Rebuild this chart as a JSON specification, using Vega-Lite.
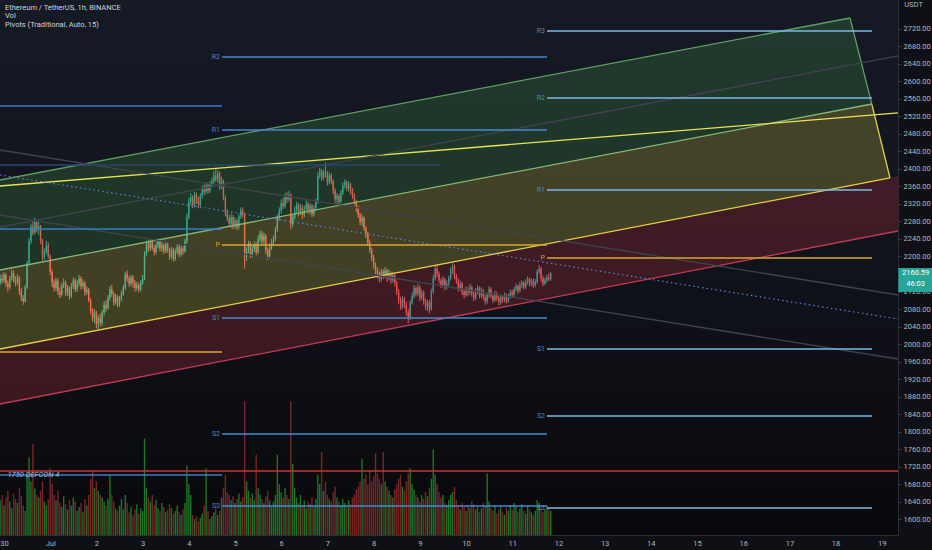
{
"$schema":"https://vega.github.io/schema/vega-lite/v6.json",
"width":898,"height":535,
"autosize":{"type":"none"},
"padding":{"left":0,"top":0,"right":34,"bottom":15},
"background":"#0e1016",
"config":{"view":{"stroke":null},"font":"Roboto",
"axis":{"labelOverlap":false},
"axisY":{"labelOverlap":false,"labelFlush":false,"labelColor":"#b2b5be","labelFont":"Roboto","labelFontSize":7.5,"tickColor":"#3a3e4a","tickSize":3,"labelPadding":2,"domainColor":"#2a2e39","grid":false,"labelAlign":"left","labelBaseline":"middle","title":null},
"axisX":{"labelOverlap":false,"labelFlush":false,"labelColor":"#b2b5be","labelFont":"Roboto","labelFontSize":7.5,"ticks":false,"labelPadding":4,"domainColor":"#2a2e39","grid":false,"title":null}},
"datasets":{
"bg":[{"t":-2.08,"t2":464.42,"v0":0,"v1":400}],
"candles":[
{"t":-2,"o":2140,"hi":2158,"lo":2135,"c":2150,"v":26},
{"t":-1,"o":2150,"hi":2160,"lo":2138,"c":2145,"v":30},
{"t":0,"o":2145,"hi":2165,"lo":2140,"c":2158,"v":22},
{"t":1,"o":2158,"hi":2162,"lo":2130,"c":2138,"v":28},
{"t":2,"o":2138,"hi":2145,"lo":2120,"c":2130,"v":33},
{"t":3,"o":2130,"hi":2156,"lo":2125,"c":2150,"v":25},
{"t":4,"o":2150,"hi":2170,"lo":2145,"c":2162,"v":20},
{"t":5,"o":2162,"hi":2168,"lo":2140,"c":2145,"v":31},
{"t":6,"o":2145,"hi":2155,"lo":2132,"c":2140,"v":27},
{"t":7,"o":2140,"hi":2160,"lo":2135,"c":2152,"v":24},
{"t":8,"o":2152,"hi":2155,"lo":2112,"c":2120,"v":35},
{"t":9,"o":2120,"hi":2128,"lo":2098,"c":2105,"v":29},
{"t":10,"o":2105,"hi":2112,"lo":2090,"c":2098,"v":22},
{"t":11,"o":2098,"hi":2135,"lo":2095,"c":2130,"v":18},
{"t":12,"o":2130,"hi":2190,"lo":2126,"c":2185,"v":45},
{"t":13,"o":2185,"hi":2242,"lo":2180,"c":2235,"v":58},
{"t":14,"o":2235,"hi":2275,"lo":2228,"c":2268,"v":40},
{"t":15,"o":2268,"hi":2282,"lo":2248,"c":2255,"v":68},
{"t":16,"o":2255,"hi":2289,"lo":2250,"c":2278,"v":35},
{"t":17,"o":2278,"hi":2284,"lo":2255,"c":2262,"v":30},
{"t":18,"o":2262,"hi":2280,"lo":2250,"c":2270,"v":28},
{"t":19,"o":2270,"hi":2272,"lo":2228,"c":2235,"v":33},
{"t":20,"o":2235,"hi":2240,"lo":2190,"c":2198,"v":40},
{"t":21,"o":2198,"hi":2218,"lo":2192,"c":2210,"v":25},
{"t":22,"o":2210,"hi":2236,"lo":2205,"c":2225,"v":22},
{"t":23,"o":2225,"hi":2232,"lo":2195,"c":2200,"v":27},
{"t":24,"o":2200,"hi":2205,"lo":2158,"c":2165,"v":50},
{"t":25,"o":2165,"hi":2170,"lo":2130,"c":2140,"v":38},
{"t":26,"o":2140,"hi":2148,"lo":2120,"c":2128,"v":30},
{"t":27,"o":2128,"hi":2152,"lo":2122,"c":2145,"v":26},
{"t":28,"o":2145,"hi":2150,"lo":2112,"c":2120,"v":33},
{"t":29,"o":2120,"hi":2130,"lo":2105,"c":2112,"v":24},
{"t":30,"o":2112,"hi":2140,"lo":2108,"c":2135,"v":21},
{"t":31,"o":2135,"hi":2150,"lo":2128,"c":2140,"v":29},
{"t":32,"o":2140,"hi":2145,"lo":2110,"c":2118,"v":23},
{"t":33,"o":2118,"hi":2135,"lo":2110,"c":2128,"v":19},
{"t":34,"o":2128,"hi":2132,"lo":2102,"c":2110,"v":26},
{"t":35,"o":2110,"hi":2140,"lo":2105,"c":2132,"v":22},
{"t":36,"o":2132,"hi":2152,"lo":2126,"c":2145,"v":28},
{"t":37,"o":2145,"hi":2150,"lo":2118,"c":2125,"v":25},
{"t":38,"o":2125,"hi":2146,"lo":2120,"c":2138,"v":18},
{"t":39,"o":2138,"hi":2158,"lo":2132,"c":2150,"v":21},
{"t":40,"o":2150,"hi":2155,"lo":2125,"c":2132,"v":24},
{"t":41,"o":2132,"hi":2148,"lo":2126,"c":2140,"v":17},
{"t":42,"o":2140,"hi":2144,"lo":2110,"c":2118,"v":27},
{"t":43,"o":2118,"hi":2132,"lo":2112,"c":2125,"v":22},
{"t":44,"o":2125,"hi":2128,"lo":2095,"c":2100,"v":30},
{"t":45,"o":2100,"hi":2105,"lo":2068,"c":2075,"v":42},
{"t":46,"o":2075,"hi":2082,"lo":2052,"c":2060,"v":48},
{"t":47,"o":2060,"hi":2080,"lo":2048,"c":2072,"v":35},
{"t":48,"o":2072,"hi":2076,"lo":2036,"c":2045,"v":40},
{"t":49,"o":2045,"hi":2066,"lo":2033,"c":2060,"v":33},
{"t":50,"o":2060,"hi":2070,"lo":2040,"c":2048,"v":30},
{"t":51,"o":2048,"hi":2078,"lo":2042,"c":2072,"v":28},
{"t":52,"o":2072,"hi":2098,"lo":2065,"c":2090,"v":25},
{"t":53,"o":2090,"hi":2100,"lo":2074,"c":2082,"v":22},
{"t":54,"o":2082,"hi":2112,"lo":2078,"c":2105,"v":27},
{"t":55,"o":2105,"hi":2132,"lo":2100,"c":2125,"v":45},
{"t":56,"o":2125,"hi":2136,"lo":2108,"c":2115,"v":30},
{"t":57,"o":2115,"hi":2120,"lo":2088,"c":2095,"v":25},
{"t":58,"o":2095,"hi":2115,"lo":2090,"c":2108,"v":20},
{"t":59,"o":2108,"hi":2112,"lo":2084,"c":2090,"v":18},
{"t":60,"o":2090,"hi":2110,"lo":2085,"c":2102,"v":22},
{"t":61,"o":2102,"hi":2122,"lo":2098,"c":2115,"v":27},
{"t":62,"o":2115,"hi":2135,"lo":2110,"c":2128,"v":19},
{"t":63,"o":2128,"hi":2165,"lo":2124,"c":2160,"v":30},
{"t":64,"o":2160,"hi":2168,"lo":2142,"c":2150,"v":24},
{"t":65,"o":2150,"hi":2156,"lo":2130,"c":2138,"v":17},
{"t":66,"o":2138,"hi":2158,"lo":2132,"c":2152,"v":21},
{"t":67,"o":2152,"hi":2157,"lo":2128,"c":2140,"v":15},
{"t":68,"o":2140,"hi":2146,"lo":2120,"c":2128,"v":19},
{"t":69,"o":2128,"hi":2142,"lo":2122,"c":2135,"v":23},
{"t":70,"o":2135,"hi":2140,"lo":2118,"c":2125,"v":16},
{"t":71,"o":2125,"hi":2146,"lo":2120,"c":2140,"v":20},
{"t":72,"o":2140,"hi":2158,"lo":2135,"c":2150,"v":18},
{"t":73,"o":2150,"hi":2212,"lo":2146,"c":2205,"v":72},
{"t":74,"o":2205,"hi":2236,"lo":2200,"c":2228,"v":35},
{"t":75,"o":2228,"hi":2238,"lo":2210,"c":2218,"v":28},
{"t":76,"o":2218,"hi":2240,"lo":2212,"c":2232,"v":25},
{"t":77,"o":2232,"hi":2238,"lo":2214,"c":2220,"v":30},
{"t":78,"o":2220,"hi":2226,"lo":2202,"c":2210,"v":22},
{"t":79,"o":2210,"hi":2232,"lo":2205,"c":2225,"v":26},
{"t":80,"o":2225,"hi":2242,"lo":2218,"c":2235,"v":20},
{"t":81,"o":2235,"hi":2240,"lo":2212,"c":2218,"v":18},
{"t":82,"o":2218,"hi":2234,"lo":2210,"c":2226,"v":24},
{"t":83,"o":2226,"hi":2230,"lo":2205,"c":2212,"v":21},
{"t":84,"o":2212,"hi":2235,"lo":2208,"c":2228,"v":17},
{"t":85,"o":2228,"hi":2232,"lo":2208,"c":2215,"v":19},
{"t":86,"o":2215,"hi":2220,"lo":2192,"c":2200,"v":23},
{"t":87,"o":2200,"hi":2222,"lo":2195,"c":2215,"v":20},
{"t":88,"o":2215,"hi":2220,"lo":2188,"c":2195,"v":16},
{"t":89,"o":2195,"hi":2218,"lo":2190,"c":2210,"v":18},
{"t":90,"o":2210,"hi":2230,"lo":2205,"c":2222,"v":22},
{"t":91,"o":2222,"hi":2228,"lo":2198,"c":2205,"v":17},
{"t":92,"o":2205,"hi":2225,"lo":2200,"c":2218,"v":15},
{"t":93,"o":2218,"hi":2224,"lo":2204,"c":2212,"v":19},
{"t":94,"o":2212,"hi":2240,"lo":2208,"c":2235,"v":24},
{"t":95,"o":2235,"hi":2298,"lo":2230,"c":2290,"v":52},
{"t":96,"o":2290,"hi":2334,"lo":2285,"c":2325,"v":38},
{"t":97,"o":2325,"hi":2345,"lo":2318,"c":2335,"v":30},
{"t":98,"o":2335,"hi":2340,"lo":2310,"c":2318,"v":15},
{"t":99,"o":2318,"hi":2348,"lo":2312,"c":2340,"v":12},
{"t":100,"o":2340,"hi":2346,"lo":2320,"c":2330,"v":14},
{"t":101,"o":2330,"hi":2336,"lo":2310,"c":2318,"v":10},
{"t":102,"o":2318,"hi":2344,"lo":2314,"c":2338,"v":13},
{"t":103,"o":2338,"hi":2362,"lo":2332,"c":2355,"v":16},
{"t":104,"o":2355,"hi":2365,"lo":2340,"c":2348,"v":22},
{"t":105,"o":2348,"hi":2370,"lo":2342,"c":2362,"v":50},
{"t":106,"o":2362,"hi":2368,"lo":2344,"c":2350,"v":18},
{"t":107,"o":2350,"hi":2372,"lo":2345,"c":2365,"v":12},
{"t":108,"o":2365,"hi":2380,"lo":2358,"c":2372,"v":14},
{"t":109,"o":2372,"hi":2395,"lo":2365,"c":2385,"v":17},
{"t":110,"o":2385,"hi":2400,"lo":2370,"c":2376,"v":20},
{"t":111,"o":2376,"hi":2398,"lo":2368,"c":2390,"v":15},
{"t":112,"o":2390,"hi":2394,"lo":2352,"c":2360,"v":18},
{"t":113,"o":2360,"hi":2382,"lo":2354,"c":2372,"v":28},
{"t":114,"o":2372,"hi":2376,"lo":2328,"c":2335,"v":35},
{"t":115,"o":2335,"hi":2340,"lo":2292,"c":2300,"v":45},
{"t":116,"o":2300,"hi":2308,"lo":2280,"c":2288,"v":32},
{"t":117,"o":2288,"hi":2295,"lo":2268,"c":2275,"v":30},
{"t":118,"o":2275,"hi":2298,"lo":2266,"c":2290,"v":26},
{"t":119,"o":2290,"hi":2295,"lo":2262,"c":2270,"v":29},
{"t":120,"o":2270,"hi":2290,"lo":2264,"c":2282,"v":24},
{"t":121,"o":2282,"hi":2286,"lo":2260,"c":2268,"v":27},
{"t":122,"o":2268,"hi":2298,"lo":2262,"c":2292,"v":31},
{"t":123,"o":2292,"hi":2312,"lo":2286,"c":2305,"v":25},
{"t":124,"o":2305,"hi":2312,"lo":2288,"c":2295,"v":28},
{"t":125,"o":2295,"hi":2300,"lo":2172,"c":2200,"v":100},
{"t":126,"o":2200,"hi":2222,"lo":2190,"c":2215,"v":40},
{"t":127,"o":2215,"hi":2236,"lo":2208,"c":2230,"v":33},
{"t":128,"o":2230,"hi":2234,"lo":2196,"c":2205,"v":28},
{"t":129,"o":2205,"hi":2226,"lo":2198,"c":2218,"v":31},
{"t":130,"o":2218,"hi":2235,"lo":2210,"c":2228,"v":26},
{"t":131,"o":2228,"hi":2232,"lo":2200,"c":2210,"v":60},
{"t":132,"o":2210,"hi":2248,"lo":2205,"c":2240,"v":35},
{"t":133,"o":2240,"hi":2260,"lo":2232,"c":2252,"v":30},
{"t":134,"o":2252,"hi":2258,"lo":2226,"c":2235,"v":27},
{"t":135,"o":2235,"hi":2255,"lo":2228,"c":2248,"v":24},
{"t":136,"o":2248,"hi":2252,"lo":2205,"c":2215,"v":29},
{"t":137,"o":2215,"hi":2220,"lo":2192,"c":2200,"v":33},
{"t":138,"o":2200,"hi":2230,"lo":2196,"c":2222,"v":26},
{"t":139,"o":2222,"hi":2240,"lo":2215,"c":2232,"v":22},
{"t":140,"o":2232,"hi":2248,"lo":2225,"c":2240,"v":25},
{"t":141,"o":2240,"hi":2268,"lo":2235,"c":2262,"v":30},
{"t":142,"o":2262,"hi":2296,"lo":2256,"c":2290,"v":60},
{"t":143,"o":2290,"hi":2312,"lo":2282,"c":2305,"v":38},
{"t":144,"o":2305,"hi":2330,"lo":2298,"c":2322,"v":32},
{"t":145,"o":2322,"hi":2334,"lo":2308,"c":2315,"v":28},
{"t":146,"o":2315,"hi":2345,"lo":2310,"c":2338,"v":35},
{"t":147,"o":2338,"hi":2348,"lo":2322,"c":2330,"v":30},
{"t":148,"o":2330,"hi":2350,"lo":2325,"c":2340,"v":27},
{"t":149,"o":2340,"hi":2345,"lo":2262,"c":2275,"v":100},
{"t":150,"o":2275,"hi":2298,"lo":2268,"c":2290,"v":53},
{"t":151,"o":2290,"hi":2315,"lo":2284,"c":2305,"v":35},
{"t":152,"o":2305,"hi":2325,"lo":2298,"c":2318,"v":28},
{"t":153,"o":2318,"hi":2322,"lo":2292,"c":2300,"v":24},
{"t":154,"o":2300,"hi":2320,"lo":2295,"c":2312,"v":30},
{"t":155,"o":2312,"hi":2318,"lo":2286,"c":2295,"v":22},
{"t":156,"o":2295,"hi":2316,"lo":2290,"c":2308,"v":26},
{"t":157,"o":2308,"hi":2328,"lo":2302,"c":2320,"v":20},
{"t":158,"o":2320,"hi":2325,"lo":2298,"c":2305,"v":25},
{"t":159,"o":2305,"hi":2322,"lo":2296,"c":2315,"v":23},
{"t":160,"o":2315,"hi":2320,"lo":2290,"c":2298,"v":28},
{"t":161,"o":2298,"hi":2318,"lo":2292,"c":2310,"v":21},
{"t":162,"o":2310,"hi":2332,"lo":2305,"c":2325,"v":27},
{"t":163,"o":2325,"hi":2392,"lo":2320,"c":2385,"v":45},
{"t":164,"o":2385,"hi":2402,"lo":2378,"c":2395,"v":38},
{"t":165,"o":2395,"hi":2400,"lo":2372,"c":2380,"v":62},
{"t":166,"o":2380,"hi":2398,"lo":2374,"c":2392,"v":33},
{"t":167,"o":2392,"hi":2414,"lo":2380,"c":2388,"v":40},
{"t":168,"o":2388,"hi":2395,"lo":2362,"c":2370,"v":30},
{"t":169,"o":2370,"hi":2392,"lo":2364,"c":2385,"v":27},
{"t":170,"o":2385,"hi":2390,"lo":2365,"c":2372,"v":25},
{"t":171,"o":2372,"hi":2376,"lo":2342,"c":2350,"v":32},
{"t":172,"o":2350,"hi":2356,"lo":2322,"c":2330,"v":36},
{"t":173,"o":2330,"hi":2345,"lo":2320,"c":2338,"v":28},
{"t":174,"o":2338,"hi":2342,"lo":2318,"c":2325,"v":25},
{"t":175,"o":2325,"hi":2352,"lo":2320,"c":2345,"v":22},
{"t":176,"o":2345,"hi":2370,"lo":2340,"c":2362,"v":27},
{"t":177,"o":2362,"hi":2376,"lo":2355,"c":2370,"v":24},
{"t":178,"o":2370,"hi":2374,"lo":2350,"c":2356,"v":21},
{"t":179,"o":2356,"hi":2372,"lo":2348,"c":2365,"v":26},
{"t":180,"o":2365,"hi":2368,"lo":2342,"c":2350,"v":23},
{"t":181,"o":2350,"hi":2356,"lo":2332,"c":2340,"v":28},
{"t":182,"o":2340,"hi":2345,"lo":2318,"c":2325,"v":30},
{"t":183,"o":2325,"hi":2330,"lo":2302,"c":2310,"v":34},
{"t":184,"o":2310,"hi":2316,"lo":2288,"c":2295,"v":36},
{"t":185,"o":2295,"hi":2300,"lo":2272,"c":2280,"v":40},
{"t":186,"o":2280,"hi":2296,"lo":2270,"c":2288,"v":57},
{"t":187,"o":2288,"hi":2292,"lo":2258,"c":2265,"v":42},
{"t":188,"o":2265,"hi":2270,"lo":2242,"c":2250,"v":45},
{"t":189,"o":2250,"hi":2256,"lo":2225,"c":2232,"v":38},
{"t":190,"o":2232,"hi":2238,"lo":2208,"c":2215,"v":48},
{"t":191,"o":2215,"hi":2220,"lo":2190,"c":2198,"v":40},
{"t":192,"o":2198,"hi":2204,"lo":2172,"c":2180,"v":44},
{"t":193,"o":2180,"hi":2186,"lo":2160,"c":2168,"v":61},
{"t":194,"o":2168,"hi":2175,"lo":2150,"c":2160,"v":46},
{"t":195,"o":2160,"hi":2166,"lo":2140,"c":2148,"v":42},
{"t":196,"o":2148,"hi":2172,"lo":2142,"c":2165,"v":38},
{"t":197,"o":2165,"hi":2170,"lo":2148,"c":2155,"v":62},
{"t":198,"o":2155,"hi":2176,"lo":2150,"c":2168,"v":40},
{"t":199,"o":2168,"hi":2172,"lo":2142,"c":2150,"v":36},
{"t":200,"o":2150,"hi":2170,"lo":2145,"c":2162,"v":33},
{"t":201,"o":2162,"hi":2166,"lo":2138,"c":2145,"v":30},
{"t":202,"o":2145,"hi":2165,"lo":2140,"c":2158,"v":28},
{"t":203,"o":2158,"hi":2162,"lo":2132,"c":2140,"v":34},
{"t":204,"o":2140,"hi":2145,"lo":2112,"c":2120,"v":38},
{"t":205,"o":2120,"hi":2126,"lo":2092,"c":2100,"v":42},
{"t":206,"o":2100,"hi":2108,"lo":2078,"c":2085,"v":45},
{"t":207,"o":2085,"hi":2110,"lo":2080,"c":2102,"v":36},
{"t":208,"o":2102,"hi":2108,"lo":2082,"c":2090,"v":33},
{"t":209,"o":2090,"hi":2096,"lo":2064,"c":2072,"v":40},
{"t":210,"o":2072,"hi":2080,"lo":2048,"c":2060,"v":46},
{"t":211,"o":2060,"hi":2100,"lo":2055,"c":2095,"v":50},
{"t":212,"o":2095,"hi":2118,"lo":2090,"c":2110,"v":38},
{"t":213,"o":2110,"hi":2135,"lo":2104,"c":2128,"v":34},
{"t":214,"o":2128,"hi":2132,"lo":2108,"c":2115,"v":30},
{"t":215,"o":2115,"hi":2138,"lo":2110,"c":2130,"v":28},
{"t":216,"o":2130,"hi":2134,"lo":2098,"c":2105,"v":25},
{"t":217,"o":2105,"hi":2125,"lo":2100,"c":2118,"v":30},
{"t":218,"o":2118,"hi":2122,"lo":2090,"c":2098,"v":27},
{"t":219,"o":2098,"hi":2104,"lo":2078,"c":2085,"v":32},
{"t":220,"o":2085,"hi":2102,"lo":2075,"c":2095,"v":29},
{"t":221,"o":2095,"hi":2100,"lo":2070,"c":2080,"v":35},
{"t":222,"o":2080,"hi":2126,"lo":2076,"c":2120,"v":42},
{"t":223,"o":2120,"hi":2158,"lo":2115,"c":2150,"v":64},
{"t":224,"o":2150,"hi":2180,"lo":2145,"c":2172,"v":45},
{"t":225,"o":2172,"hi":2182,"lo":2152,"c":2160,"v":38},
{"t":226,"o":2160,"hi":2166,"lo":2138,"c":2145,"v":32},
{"t":227,"o":2145,"hi":2150,"lo":2128,"c":2135,"v":28},
{"t":228,"o":2135,"hi":2155,"lo":2130,"c":2148,"v":30},
{"t":229,"o":2148,"hi":2152,"lo":2122,"c":2130,"v":24},
{"t":230,"o":2130,"hi":2145,"lo":2125,"c":2138,"v":22},
{"t":231,"o":2138,"hi":2156,"lo":2132,"c":2150,"v":26},
{"t":232,"o":2150,"hi":2175,"lo":2145,"c":2168,"v":30},
{"t":233,"o":2168,"hi":2186,"lo":2160,"c":2178,"v":32},
{"t":234,"o":2178,"hi":2182,"lo":2148,"c":2155,"v":36},
{"t":235,"o":2155,"hi":2160,"lo":2138,"c":2145,"v":26},
{"t":236,"o":2145,"hi":2150,"lo":2120,"c":2128,"v":22},
{"t":237,"o":2128,"hi":2145,"lo":2122,"c":2138,"v":19},
{"t":238,"o":2138,"hi":2142,"lo":2112,"c":2120,"v":24},
{"t":239,"o":2120,"hi":2126,"lo":2104,"c":2112,"v":21},
{"t":240,"o":2112,"hi":2132,"lo":2108,"c":2125,"v":18},
{"t":241,"o":2125,"hi":2130,"lo":2110,"c":2118,"v":22},
{"t":242,"o":2118,"hi":2138,"lo":2112,"c":2130,"v":20},
{"t":243,"o":2130,"hi":2134,"lo":2108,"c":2115,"v":25},
{"t":244,"o":2115,"hi":2120,"lo":2098,"c":2105,"v":23},
{"t":245,"o":2105,"hi":2128,"lo":2100,"c":2120,"v":19},
{"t":246,"o":2120,"hi":2135,"lo":2114,"c":2128,"v":21},
{"t":247,"o":2128,"hi":2132,"lo":2104,"c":2110,"v":17},
{"t":248,"o":2110,"hi":2130,"lo":2105,"c":2122,"v":20},
{"t":249,"o":2122,"hi":2126,"lo":2100,"c":2108,"v":24},
{"t":250,"o":2108,"hi":2114,"lo":2090,"c":2098,"v":22},
{"t":251,"o":2098,"hi":2118,"lo":2092,"c":2112,"v":46},
{"t":252,"o":2112,"hi":2132,"lo":2106,"c":2125,"v":25},
{"t":253,"o":2125,"hi":2130,"lo":2104,"c":2110,"v":20},
{"t":254,"o":2110,"hi":2116,"lo":2094,"c":2100,"v":18},
{"t":255,"o":2100,"hi":2122,"lo":2096,"c":2115,"v":22},
{"t":256,"o":2115,"hi":2120,"lo":2098,"c":2105,"v":16},
{"t":257,"o":2105,"hi":2110,"lo":2088,"c":2095,"v":19},
{"t":258,"o":2095,"hi":2114,"lo":2090,"c":2108,"v":21},
{"t":259,"o":2108,"hi":2112,"lo":2094,"c":2100,"v":17},
{"t":260,"o":2100,"hi":2118,"lo":2095,"c":2112,"v":15},
{"t":261,"o":2112,"hi":2116,"lo":2092,"c":2098,"v":20},
{"t":262,"o":2098,"hi":2114,"lo":2094,"c":2108,"v":18},
{"t":263,"o":2108,"hi":2125,"lo":2104,"c":2118,"v":22},
{"t":264,"o":2118,"hi":2124,"lo":2106,"c":2112,"v":19},
{"t":265,"o":2112,"hi":2130,"lo":2108,"c":2125,"v":24},
{"t":266,"o":2125,"hi":2138,"lo":2120,"c":2132,"v":21},
{"t":267,"o":2132,"hi":2136,"lo":2115,"c":2122,"v":17},
{"t":268,"o":2122,"hi":2142,"lo":2118,"c":2135,"v":20},
{"t":269,"o":2135,"hi":2146,"lo":2128,"c":2140,"v":23},
{"t":270,"o":2140,"hi":2144,"lo":2124,"c":2130,"v":18},
{"t":271,"o":2130,"hi":2148,"lo":2126,"c":2142,"v":16},
{"t":272,"o":2142,"hi":2155,"lo":2136,"c":2148,"v":21},
{"t":273,"o":2148,"hi":2152,"lo":2132,"c":2138,"v":19},
{"t":274,"o":2138,"hi":2150,"lo":2132,"c":2145,"v":17},
{"t":275,"o":2145,"hi":2150,"lo":2128,"c":2135,"v":15},
{"t":276,"o":2135,"hi":2148,"lo":2130,"c":2142,"v":18},
{"t":277,"o":2142,"hi":2170,"lo":2138,"c":2165,"v":26},
{"t":278,"o":2165,"hi":2180,"lo":2160,"c":2172,"v":24},
{"t":279,"o":2172,"hi":2176,"lo":2142,"c":2150,"v":20},
{"t":280,"o":2150,"hi":2155,"lo":2132,"c":2138,"v":17},
{"t":281,"o":2138,"hi":2152,"lo":2134,"c":2145,"v":19},
{"t":282,"o":2145,"hi":2158,"lo":2140,"c":2152,"v":22},
{"t":283,"o":2152,"hi":2162,"lo":2144,"c":2148,"v":20},
{"t":284,"o":2148,"hi":2165,"lo":2145,"c":2160.59,"v":18}
],
"fills":[
{"zone":"green","t":-2.08,"a":2374.6,"b":2169.1},
{"zone":"green","t":439.48,"a":2744.4,"b":2538.5},
{"zone":"green","t":450.91,"a":2546,"b":2546},
{"zone":"yellow","t":-2.08,"a":2169.1,"b":1988.8},
{"zone":"yellow","t":450.91,"a":2548.1,"b":2371.2},
{"zone":"yellow","t":460.26,"a":2379.2,"b":2379.2},
{"zone":"red","t":-2.08,"a":1988.8,"b":1863.2},
{"zone":"red","t":460.26,"a":2379.2,"b":2254.8},
{"zone":"red","t":464.42,"a":2383.7,"b":2258.2}
],
"trend":[
{"kind":"green","t":-2.08,"p":2374.6,"t2":439.48,"p2":2744.4},
{"kind":"green","t":439.48,"p":2744.4,"t2":450.91,"p2":2546},
{"kind":"yellow","t":450.91,"p":2546,"t2":460.26,"p2":2379.2},
{"kind":"greenmid","t":-2.08,"p":2169.1,"t2":450.91,"p2":2548.1},
{"kind":"yellow","t":-2.08,"p":1988.8,"t2":460.26,"p2":2379.2},
{"kind":"red","t":-2.08,"p":1863.2,"t2":464.42,"p2":2258.2},
{"kind":"yellow2","t":-2.08,"p":2360.9,"t2":464.42,"p2":2527.6},
{"kind":"grey","t":-2.08,"p":2267.3,"t2":464.42,"p2":2657.7},
{"kind":"grey","t":-2.08,"p":2443.1,"t2":464.42,"p2":2112.1},
{"kind":"grey","t":-2.08,"p":2294.7,"t2":464.42,"p2":1966.0},
{"kind":"dotted","t":-2.08,"p":2386.0,"t2":464.42,"p2":2057.3}
],
"levels":[
{"kind":"prev","t":-2.08,"t2":113.25,"p":2543.5},
{"kind":"prev","t":-2.08,"t2":113.25,"p":2262.7},
{"kind":"P","t":-2.08,"t2":113.25,"p":1981.9},
{"kind":"prev","t":-2.08,"t2":113.25,"p":1701.1},
{"kind":"faint","t":-2.08,"t2":226.5,"p":2408.9},
{"kind":"left","t":113.25,"t2":282.08,"p":2655.4},
{"kind":"left","t":113.25,"t2":282.08,"p":2488.7},
{"kind":"P","t":113.25,"t2":282.08,"p":2226.2},
{"kind":"left","t":113.25,"t2":282.08,"p":2059.6},
{"kind":"left","t":113.25,"t2":282.08,"p":1794.7},
{"kind":"left","t":113.25,"t2":282.08,"p":1630.4},
{"kind":"right","t":282.08,"t2":450.91,"p":2714.7},
{"kind":"right","t":282.08,"t2":450.91,"p":2561.8},
{"kind":"right","t":282.08,"t2":450.91,"p":2351.8},
{"kind":"P","t":282.08,"t2":450.91,"p":2196.5},
{"kind":"right","t":282.08,"t2":450.91,"p":1988.8},
{"kind":"right","t":282.08,"t2":450.91,"p":1835.9},
{"kind":"right","t":282.08,"t2":450.91,"p":1625.8},
{"kind":"defcon","t":-2.08,"t2":464.42,"p":1710.3}
],
"labels":[
{"kind":"rs","t":113.25,"p":2655.4,"text":"R2"},
{"kind":"rs","t":113.25,"p":2488.7,"text":"R1"},
{"kind":"p","t":113.25,"p":2226.2,"text":"P"},
{"kind":"rs","t":113.25,"p":2059.6,"text":"S1"},
{"kind":"rs","t":113.25,"p":1794.7,"text":"S2"},
{"kind":"rs","t":113.25,"p":1630.4,"text":"S3"},
{"kind":"rs","t":282.08,"p":2714.7,"text":"R3"},
{"kind":"rs","t":282.08,"p":2561.8,"text":"R2"},
{"kind":"rs","t":282.08,"p":2351.8,"text":"R1"},
{"kind":"p","t":282.08,"p":2196.5,"text":"P"},
{"kind":"rs","t":282.08,"p":1988.8,"text":"S1"},
{"kind":"rs","t":282.08,"p":1835.9,"text":"S2"},
{"kind":"rs","t":282.08,"p":1625.8,"text":"S3"}
],
"header":[
{"t":0.52,"p":2767.3,"text":"Ethereum / TetherUS, 1h, BINANCE"},
{"t":0.52,"p":2749.0,"text":"Vol"},
{"t":0.52,"p":2728.5,"text":"Pivots (Traditional, Auto, 15)"}
],
"defcon":[{"t":1.8,"p":1701.1,"text":"1750 DEFCON 4"}],
"pbox":[{"t":464.6,"t2":482.6,"p":2173.7,"p2":2119.0}],
"ptext":[{"t":473.6,"p":2162,"text":"2160.59"},{"t":473.6,"p":2137,"text":"46:03"}],
"usdt":[{"t":472.5,"p":2773,"text":"USDT"}]
},
"resolve":{"scale":{"y":"independent"}},
"layer":[
{"layer":[
{"data":{"name":"bg"},
"mark":{"type":"rect","fill":{"gradient":"linear","x1":0,"y1":0,"x2":0,"y2":1,"stops":[{"offset":0,"color":"#161a25"},{"offset":0.6,"color":"#0f1118"},{"offset":1,"color":"#09090c"}]}},
"encoding":{
"x":{"field":"t","type":"quantitative","scale":{"domain":[-2.08,464.42],"nice":false,"zero":false,"padding":0},"title":null,
"axis":{"values":[0,24,48,72,96,120,144,168,192,216,240,264,288,312,336,360,384,408,432,456],"labelExpr":"datum.value==0?'30':datum.value==24?'Jul':format(datum.value/24,'d')","labelOverlap":false}},
"x2":{"field":"t2"},
"y":{"field":"v0","type":"quantitative","scale":{"domain":[0,400],"nice":false,"zero":false,"padding":0},"axis":null,"title":null},
"y2":{"field":"v1"}}},
{"data":{"name":"candles"},
"mark":{"type":"bar","orient":"vertical","width":1.4,"opacity":0.85},
"encoding":{
"x":{"field":"t","type":"quantitative","scale":{"domain":[-2.08,464.42],"nice":false,"zero":false,"padding":0},"title":null},
"y":{"field":"v","type":"quantitative","scale":{"domain":[0,400],"nice":false,"zero":false,"padding":0},"axis":null,"title":null},
"color":{"condition":{"test":"datum.c>=datum.o","value":"#1f8a2a"},"value":"#8b2c2c"}}}
]},
{"resolve":{"scale":{"color":"independent","strokeWidth":"independent"}},
"layer":[
{"data":{"name":"candles"},
"mark":{"type":"rule","strokeWidth":1},
"encoding":{
"x":{"field":"t","type":"quantitative","scale":{"domain":[-2.08,464.42],"nice":false,"zero":false,"padding":0},"title":null},
"y":{"field":"lo","type":"quantitative","scale":{"domain":[1564.2,2785.5],"nice":false,"zero":false,"padding":0},"title":null,"axis":{"orient":"right","values":[1600,1640,1680,1720,1760,1800,1840,1880,1920,1960,2000,2040,2080,2120,2200,2240,2280,2320,2360,2400,2440,2480,2520,2560,2600,2640,2680,2720],"format":".2f","labelOverlap":false}},
"y2":{"field":"hi"},
"color":{"condition":{"test":"datum.c>=datum.o","value":"#26a69a"},"value":"#ef5350"}}},
{"data":{"name":"candles"},
"mark":{"type":"bar","orient":"vertical","width":1.4},
"encoding":{
"x":{"field":"t","type":"quantitative","scale":{"domain":[-2.08,464.42],"nice":false,"zero":false,"padding":0},"title":null},
"y":{"field":"o","type":"quantitative","scale":{"domain":[1564.2,2785.5],"nice":false,"zero":false,"padding":0},"title":null,"axis":{"orient":"right","values":[1600,1640,1680,1720,1760,1800,1840,1880,1920,1960,2000,2040,2080,2120,2200,2240,2280,2320,2360,2400,2440,2480,2520,2560,2600,2640,2680,2720],"format":".2f","labelOverlap":false}},
"y2":{"field":"c"},
"color":{"condition":{"test":"datum.c>=datum.o","value":"#26a69a"},"value":"#ef5350"}}},
{"data":{"name":"fills"},
"mark":{"type":"area","opacity":0.22,"interpolate":"linear"},
"encoding":{
"x":{"field":"t","type":"quantitative","scale":{"domain":[-2.08,464.42],"nice":false,"zero":false,"padding":0},"title":null},
"y":{"field":"a","type":"quantitative","scale":{"domain":[1564.2,2785.5],"nice":false,"zero":false,"padding":0},"title":null,"axis":{"orient":"right","values":[1600,1640,1680,1720,1760,1800,1840,1880,1920,1960,2000,2040,2080,2120,2200,2240,2280,2320,2360,2400,2440,2480,2520,2560,2600,2640,2680,2720],"format":".2f","labelOverlap":false}},
"y2":{"field":"b"},
"color":{"field":"zone","type":"nominal","scale":{"domain":["green","yellow","red"],"range":["#4caf50","#f2e24a","#e53945"]},"legend":null}}},
{"data":{"name":"trend"},
"transform":[{"filter":"datum.kind!='dotted'"}],
"mark":{"type":"rule","strokeWidth":1.3},
"encoding":{
"x":{"field":"t","type":"quantitative","scale":{"domain":[-2.08,464.42],"nice":false,"zero":false,"padding":0},"title":null},
"x2":{"field":"t2"},
"y":{"field":"p","type":"quantitative","scale":{"domain":[1564.2,2785.5],"nice":false,"zero":false,"padding":0},"title":null,"axis":{"orient":"right","values":[1600,1640,1680,1720,1760,1800,1840,1880,1920,1960,2000,2040,2080,2120,2200,2240,2280,2320,2360,2400,2440,2480,2520,2560,2600,2640,2680,2720],"format":".2f","labelOverlap":false}},
"y2":{"field":"p2"},
"color":{"field":"kind","type":"nominal","scale":{"domain":["green","greenmid","yellow","yellow2","red","grey"],"range":["#5f9e63","#86b873","#e3cf48","#e6e455","#c23b55","#3f434d"]},"legend":null},
"strokeWidth":{"field":"kind","type":"nominal","scale":{"domain":["green","greenmid","yellow","yellow2","red","grey"],"range":[1.2,1.3,1.5,1.5,1.5,1]},"legend":null}}},
{"data":{"name":"trend"},
"transform":[{"filter":"datum.kind=='dotted'"}],
"mark":{"type":"rule","strokeWidth":1.2,"strokeDash":[1.5,3],"color":"#5d80d8"},
"encoding":{
"x":{"field":"t","type":"quantitative","scale":{"domain":[-2.08,464.42],"nice":false,"zero":false,"padding":0},"title":null},
"x2":{"field":"t2"},
"y":{"field":"p","type":"quantitative","scale":{"domain":[1564.2,2785.5],"nice":false,"zero":false,"padding":0},"title":null,"axis":{"orient":"right","values":[1600,1640,1680,1720,1760,1800,1840,1880,1920,1960,2000,2040,2080,2120,2200,2240,2280,2320,2360,2400,2440,2480,2520,2560,2600,2640,2680,2720],"format":".2f","labelOverlap":false}},
"y2":{"field":"p2"}}},
{"data":{"name":"levels"},
"mark":{"type":"rule","strokeWidth":1.5},
"encoding":{
"x":{"field":"t","type":"quantitative","scale":{"domain":[-2.08,464.42],"nice":false,"zero":false,"padding":0},"title":null},
"x2":{"field":"t2"},
"y":{"field":"p","type":"quantitative","scale":{"domain":[1564.2,2785.5],"nice":false,"zero":false,"padding":0},"title":null,"axis":{"orient":"right","values":[1600,1640,1680,1720,1760,1800,1840,1880,1920,1960,2000,2040,2080,2120,2200,2240,2280,2320,2360,2400,2440,2480,2520,2560,2600,2640,2680,2720],"format":".2f","labelOverlap":false}},
"color":{"field":"kind","type":"nominal","scale":{"domain":["prev","faint","left","right","P","defcon"],"range":["#3b7bc4","#2a4670","#4589cf","#7db8e6","#d9a92e","#c93434"]},"legend":null}}},
{"data":{"name":"labels"},
"mark":{"type":"text","align":"right","baseline":"middle","dx":-2,"fontSize":7,"font":"Roboto"},
"encoding":{
"x":{"field":"t","type":"quantitative","scale":{"domain":[-2.08,464.42],"nice":false,"zero":false,"padding":0},"title":null},
"y":{"field":"p","type":"quantitative","scale":{"domain":[1564.2,2785.5],"nice":false,"zero":false,"padding":0},"title":null,"axis":{"orient":"right","values":[1600,1640,1680,1720,1760,1800,1840,1880,1920,1960,2000,2040,2080,2120,2200,2240,2280,2320,2360,2400,2440,2480,2520,2560,2600,2640,2680,2720],"format":".2f","labelOverlap":false}},
"text":{"field":"text"},
"color":{"field":"kind","type":"nominal","scale":{"domain":["rs","p"],"range":["#5584bd","#c9a032"]},"legend":null}}},
{"data":{"name":"header"},
"mark":{"type":"text","align":"left","baseline":"middle","fontSize":7.5,"font":"Roboto","color":"#d1d4dc"},
"encoding":{
"x":{"field":"t","type":"quantitative","scale":{"domain":[-2.08,464.42],"nice":false,"zero":false,"padding":0},"title":null},
"y":{"field":"p","type":"quantitative","scale":{"domain":[1564.2,2785.5],"nice":false,"zero":false,"padding":0},"title":null,"axis":{"orient":"right","values":[1600,1640,1680,1720,1760,1800,1840,1880,1920,1960,2000,2040,2080,2120,2200,2240,2280,2320,2360,2400,2440,2480,2520,2560,2600,2640,2680,2720],"format":".2f","labelOverlap":false}},
"text":{"field":"text"}}},
{"data":{"name":"defcon"},
"mark":{"type":"text","align":"left","baseline":"middle","fontSize":7.5,"font":"Roboto","fontStyle":"italic","color":"#9fbddc"},
"encoding":{
"x":{"field":"t","type":"quantitative","scale":{"domain":[-2.08,464.42],"nice":false,"zero":false,"padding":0},"title":null},
"y":{"field":"p","type":"quantitative","scale":{"domain":[1564.2,2785.5],"nice":false,"zero":false,"padding":0},"title":null,"axis":{"orient":"right","values":[1600,1640,1680,1720,1760,1800,1840,1880,1920,1960,2000,2040,2080,2120,2200,2240,2280,2320,2360,2400,2440,2480,2520,2560,2600,2640,2680,2720],"format":".2f","labelOverlap":false}},
"text":{"field":"text"}}},
{"data":{"name":"pbox"},
"mark":{"type":"rect","color":"#26a69a"},
"encoding":{
"x":{"field":"t","type":"quantitative","scale":{"domain":[-2.08,464.42],"nice":false,"zero":false,"padding":0},"title":null},
"x2":{"field":"t2"},
"y":{"field":"p","type":"quantitative","scale":{"domain":[1564.2,2785.5],"nice":false,"zero":false,"padding":0},"title":null,"axis":{"orient":"right","values":[1600,1640,1680,1720,1760,1800,1840,1880,1920,1960,2000,2040,2080,2120,2200,2240,2280,2320,2360,2400,2440,2480,2520,2560,2600,2640,2680,2720],"format":".2f","labelOverlap":false}},
"y2":{"field":"p2"}}},
{"data":{"name":"ptext"},
"mark":{"type":"text","align":"center","baseline":"middle","fontSize":7.5,"font":"Roboto","color":"#ffffff"},
"encoding":{
"x":{"field":"t","type":"quantitative","scale":{"domain":[-2.08,464.42],"nice":false,"zero":false,"padding":0},"title":null},
"y":{"field":"p","type":"quantitative","scale":{"domain":[1564.2,2785.5],"nice":false,"zero":false,"padding":0},"title":null,"axis":{"orient":"right","values":[1600,1640,1680,1720,1760,1800,1840,1880,1920,1960,2000,2040,2080,2120,2200,2240,2280,2320,2360,2400,2440,2480,2520,2560,2600,2640,2680,2720],"format":".2f","labelOverlap":false}},
"text":{"field":"text"}}},
{"data":{"name":"usdt"},
"mark":{"type":"text","align":"center","baseline":"middle","fontSize":7.5,"font":"Roboto","color":"#b2b5be"},
"encoding":{
"x":{"field":"t","type":"quantitative","scale":{"domain":[-2.08,464.42],"nice":false,"zero":false,"padding":0},"title":null},
"y":{"field":"p","type":"quantitative","scale":{"domain":[1564.2,2785.5],"nice":false,"zero":false,"padding":0},"title":null,"axis":{"orient":"right","values":[1600,1640,1680,1720,1760,1800,1840,1880,1920,1960,2000,2040,2080,2120,2200,2240,2280,2320,2360,2400,2440,2480,2520,2560,2600,2640,2680,2720],"format":".2f","labelOverlap":false}},
"text":{"field":"text"}}}
]}
]
}
